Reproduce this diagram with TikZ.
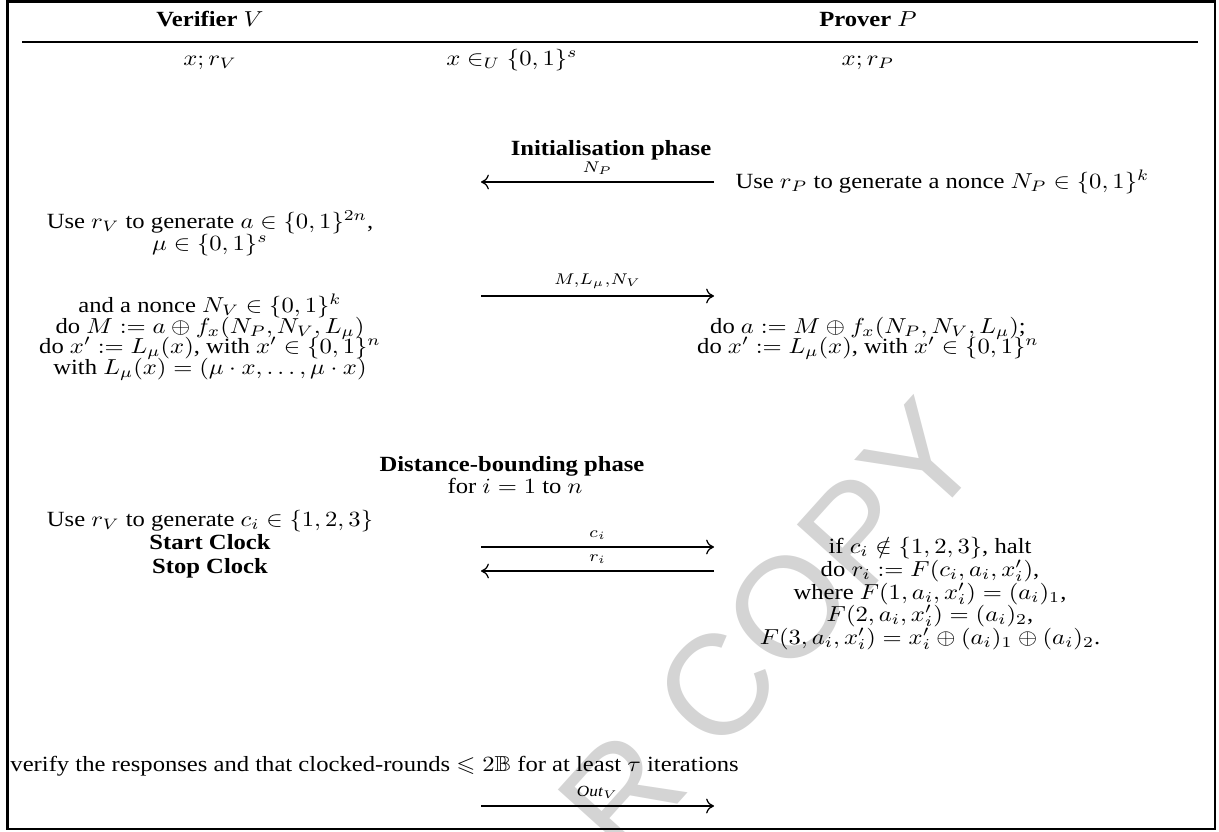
\documentclass[tikz,border=0pt]{standalone}
\usepackage{amsmath,amssymb}
\usepackage{fontspec}
\setmainfont{Liberation Serif}
\newfontfamily\wmfont{Liberation Sans}
\usetikzlibrary{arrows.meta}
\begin{document}
\begin{tikzpicture}[x=0.406pt,y=-0.406pt,
  t/.style={inner sep=0pt, anchor=base, font=\fontsize{10}{12}\selectfont, yscale=0.88, transform shape},
  tl/.style={t, anchor=base west},
  lab/.style={inner sep=0pt, anchor=base, font=\fontsize{10}{12}\selectfont, yscale=0.9, transform shape},
  msg/.style={line width=0.5pt, -{Computer Modern Rightarrow[length=3.2pt,width=6pt]}},
  wm/.style={text=black!17, inner sep=0pt, font=\fontsize{58}{60}\selectfont\wmfont, rotate=48}
]
\useasboundingbox (0,0) rectangle (1219,831);
% watermark
\node[wm] (wmark) at (770,628) {R COPY};
% frame and header rule
\draw[line width=1pt] (7.5,1.5) rectangle (1215,829);
\coordinate (ruleL) at (22,42);
\coordinate (ruleR) at (1198,42);
\draw[line width=1pt] (ruleL) -- (ruleR);
% header
\node[t] (hV) at (210,27) {\textbf{Verifier} $V$};
\node[t] (hP) at (868,27) {\textbf{Prover} $P$};
\node[t] (kV) at (210,65) {$x; r_V$};
\node[t] (kU) at (512,65) {$x \in_U \{0,1\}^s$};
\node[t] (kP) at (868,65) {$x; r_P$};
% initialisation phase
\node[t] (init) at (611,155) {\textbf{Initialisation phase}};
\coordinate (a1R) at (714,182);
\coordinate (a1L) at (481,182);
\draw[msg] (a1R) -- node[lab, above=3pt] (l1) {$\scriptstyle N_P$} (a1L);
\node[tl] (nP) at (735,188) {Use $r_P$ to generate a nonce $N_P \in \{0,1\}^k$};
\node[t] (v1) at (210,228) {Use $r_V$ to generate $a \in \{0,1\}^{2n}$,};
\node[t] (v2) at (210,250) {$\mu \in \{0,1\}^s$};
\node[t] (v3) at (210,312) {and a nonce $N_V \in \{0,1\}^k$};
\node[t] (v4) at (210,333) {do $M := a \oplus f_x(N_P, N_V, L_\mu)$};
\node[t] (v5) at (210,353) {do $x' := L_\mu(x)$, with $x' \in \{0,1\}^n$};
\node[t] (v6) at (210,374) {with $L_\mu(x) = (\mu\cdot x, \ldots, \mu\cdot x)$};
\coordinate (a2L) at (481,296);
\coordinate (a2R) at (714,296);
\draw[msg] (a2L) -- node[lab, above=3pt] (l2) {$\scriptstyle M,L_\mu,N_V$} (a2R);
\node[t] (p1) at (868,333) {do $a := M \oplus f_x(N_P, N_V, L_\mu)$;};
\node[t] (p2) at (868,353) {do $x' := L_\mu(x)$, with $x' \in \{0,1\}^n$};
% distance-bounding phase
\node[t] (db) at (512,471) {\textbf{Distance-bounding phase}};
\node[t] (fori) at (515,493) {for $i = 1$ to $n$};
\node[t] (c1) at (210,526) {Use $r_V$ to generate $c_i \in \{1,2,3\}$};
\node[t] (c2) at (210,549) {\textbf{Start Clock}};
\node[t] (c3) at (210,573) {\textbf{Stop Clock}};
\coordinate (a3L) at (481,547);
\coordinate (a3R) at (714,547);
\draw[msg] (a3L) -- node[lab, above=3pt] (l3) {$\scriptstyle c_i$} (a3R);
\coordinate (a4R) at (714,571);
\coordinate (a4L) at (481,571);
\draw[msg] (a4R) -- node[lab, above=3pt] (l4) {$\scriptstyle r_i$} (a4L);
\node[t] (q1) at (930,553) {if $c_i \notin \{1,2,3\}$, halt};
\node[t] (q2) at (930,576) {do $r_i := F(c_i, a_i, x'_i)$,};
\node[t] (q3) at (930,599) {where $F(1, a_i, x'_i) = (a_i)_1$,};
\node[t] (q4) at (930,621) {$F(2, a_i, x'_i) = (a_i)_2$,};
\node[t] (q5) at (930,644) {$F(3, a_i, x'_i) = x'_i \oplus (a_i)_1 \oplus (a_i)_2$.};
% final
\node[tl] (fin) at (10,771) {verify the responses and that clocked-rounds $\leqslant 2\mathbb{B}$ for at least $\tau$ iterations};
\coordinate (a5L) at (481,806);
\coordinate (a5R) at (714,806);
\draw[msg] (a5L) -- node[lab, above=3pt, font=\fontsize{7}{8}\selectfont] (l5) {\textit{Out}$_V$} (a5R);
\end{tikzpicture}
\end{document}
